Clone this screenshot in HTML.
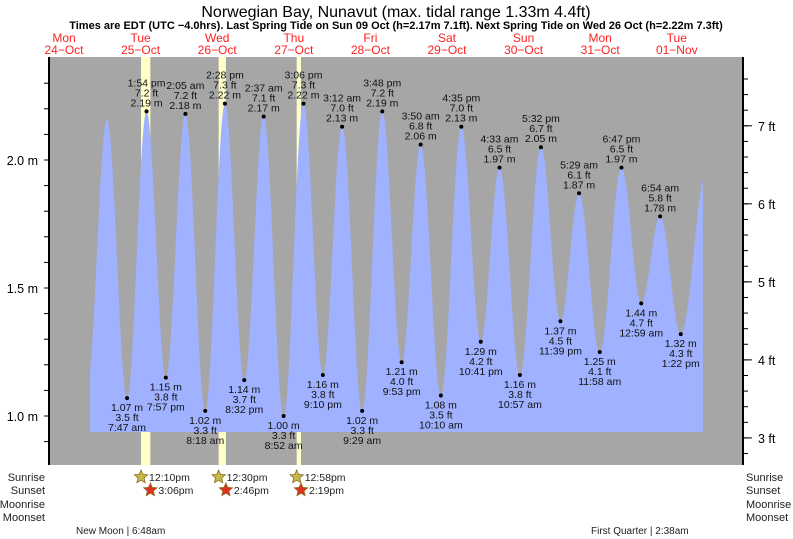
<!DOCTYPE html>
<html><head><meta charset="utf-8"><style>
body{margin:0;background:#fff;}
svg{display:block;font-family:"Liberation Sans",sans-serif;}
</style></head><body>
<svg id="chart" width="793" height="539" xmlns="http://www.w3.org/2000/svg">
<text x="396" y="17" font-size="16" text-anchor="middle">Norwegian Bay, Nunavut (max. tidal range 1.33m 4.4ft)</text>
<text x="396" y="29" font-size="11" font-weight="bold" text-anchor="middle">Times are EDT (UTC −4.0hrs). Last Spring Tide on Sun 09 Oct (h=2.17m 7.1ft). Next Spring Tide on Wed 26 Oct (h=2.22m 7.3ft)</text>
<rect x="49" y="57" width="694" height="408" fill="#a6a6a6"/>
<g id="bars"></g>
<path id="tide" fill="#9fb1ff"/>
<g id="labels" font-size="10.5" fill="#111" text-anchor="middle"></g>
<line x1="49" y1="57" x2="49" y2="465" stroke="#000" stroke-width="2"/>
<line x1="743" y1="57" x2="743" y2="465" stroke="#000" stroke-width="2"/>
<g id="axes" font-size="12.5"></g>
<g id="days" font-size="12" fill="#ff2020" text-anchor="middle"></g>
<g font-size="11" fill="#222" text-anchor="end">
<text x="45" y="481">Sunrise</text><text x="45" y="494">Sunset</text><text x="45" y="508">Moonrise</text><text x="45" y="521">Moonset</text></g>
<g font-size="11" fill="#222">
<text x="746" y="481">Sunrise</text><text x="746" y="494">Sunset</text><text x="746" y="508">Moonrise</text><text x="746" y="521">Moonset</text></g>
<g id="sun" font-size="10.5" fill="#222"></g>
<text x="76" y="534" font-size="10" fill="#222">New Moon | 6:48am</text>
<text x="591" y="534" font-size="10" fill="#222">First Quarter | 2:38am</text>
</svg>
<script>
const tideHours=[-4.8,1.5,7.78,13.9,19.95,26.08,32.3,38.47,44.53,50.62,56.87,63.1,69.17,75.2,81.48,87.8,93.88,99.83,106.17,112.58,118.68,124.55,130.95,137.53,143.65,149.48,155.97,162.78,168.98,174.9,181.37,189.5];
const tideHeights=[1.12,2.16,1.07,2.19,1.15,2.18,1.02,2.22,1.14,2.17,1.00,2.22,1.16,2.13,1.02,2.19,1.21,2.06,1.08,2.13,1.29,1.97,1.16,2.05,1.37,1.87,1.25,1.97,1.44,1.78,1.32,1.96];
const tideFeet=[null,null,'3.5','7.2','3.8','7.2','3.3','7.3','3.7','7.1','3.3','7.3','3.8','7.0','3.3','7.2','4.0','6.8','3.5','7.0','4.2','6.5','3.8','6.7','4.5','6.1','4.1','6.5','4.7','5.8','4.3',null];
const tideTimes=[null,null,'7:47 am','1:54 pm','7:57 pm','2:05 am','8:18 am','2:28 pm','8:32 pm','2:37 am','8:52 am','3:06 pm','9:10 pm','3:12 am','9:29 am','3:48 pm','9:53 pm','3:50 am','10:10 am','4:35 pm','10:41 pm','4:33 am','10:57 am','5:32 pm','11:39 pm','5:29 am','11:58 am','6:47 pm','12:59 am','6:54 am','1:22 pm',null];
const dayNames=['Mon','Tue','Wed','Thu','Fri','Sat','Sun','Mon','Tue'];
const dayDates=['24\u2212Oct','25\u2212Oct','26\u2212Oct','27\u2212Oct','28\u2212Oct','29\u2212Oct','30\u2212Oct','31\u2212Oct','01\u2212Nov'];
const sunriseHours=[12.17,36.5,60.97];
const sunsetHours=[15.1,38.77,62.32];
const sunriseLabels=['12:10pm','12:30pm','12:58pm'];
const sunsetLabels=['3:06pm','2:46pm','2:19pm'];
const meterTicks=[1.0,1.5,2.0];
const feetTicks=[3,4,5,6,7];

const NS='http://www.w3.org/2000/svg';
const X=t=>102.2+t*3.19;
const Y=h=>416-(h-1)*256;
const tStart=-3.8,tEnd=188.3,baseY=432;
function mk(tag,attrs,parent,txt){const e=document.createElementNS(NS,tag);for(const k in attrs)e.setAttribute(k,attrs[k]);if(txt!=null)e.textContent=txt;parent.appendChild(e);return e;}
function hAt(t){for(let i=0;i<tideHours.length-1;i++){const a=tideHours[i],b=tideHours[i+1];if(t>=a&&t<=b){const f=(1-Math.cos(Math.PI*(t-a)/(b-a)))/2;return tideHeights[i]+(tideHeights[i+1]-tideHeights[i])*f;}}return tideHeights[tideHeights.length-1];}
const bars=document.getElementById('bars');
for(let i=0;i<sunriseHours.length;i++){
 const r=mk('rect',{x:X(sunriseHours[i]),y:57,width:X(sunsetHours[i])-X(sunriseHours[i]),height:408,fill:'#ffffc8'},bars);
 
 
}
let d='M'+X(tStart)+','+baseY;
for(let t=tStart;t<=tEnd;t+=0.25){d+=' L'+X(t).toFixed(1)+','+Y(hAt(t)).toFixed(1);}
d+=' L'+X(tEnd)+','+Y(hAt(tEnd)).toFixed(1)+' L'+X(tEnd)+','+baseY+' Z';
document.getElementById('tide').setAttribute('d',d);
const lg=document.getElementById('labels');
for(let i=0;i<tideHours.length;i++){
 if(!tideTimes[i])continue;
 const x=X(tideHours[i]),y=Y(tideHeights[i]);
 const high=tideHeights[i]>(tideHeights[i-1]||0);
 const g=mk('g',{},lg);
 
 
 mk('circle',{cx:x,cy:y,r:2,fill:'#000'},g);
 const m=tideHeights[i].toFixed(2)+' m',f=tideFeet[i]+' ft';
 if(high){mk('text',{x:x,y:y-5},g,m);mk('text',{x:x,y:y-15},g,f);mk('text',{x:x,y:y-25},g,tideTimes[i]);}
 else{mk('text',{x:x,y:y+13},g,m);mk('text',{x:x,y:y+23},g,f);mk('text',{x:x,y:y+33},g,tideTimes[i]);}
}
const ax=document.getElementById('axes');
for(let h=0.8;h<=2.36;h+=0.1){const y=Y(h);if(y<58||y>464)continue;mk('line',{x1:44,y1:y,x2:49,y2:y,stroke:'#000'},ax);}
meterTicks.forEach(h=>{const t=mk('text',{x:38,y:Y(h)+5,'text-anchor':'end'},ax,h.toFixed(1)+' m');});
for(let f=2.6;f<=7.8;f+=0.2){const y=Y(f*0.3048);if(y<58||y>464)continue;mk('line',{x1:743,y1:y,x2:748,y2:y,stroke:'#000'},ax);}
feetTicks.forEach(f=>{const y=Y(f*0.3048);mk('line',{x1:743,y1:y,x2:752,y2:y,stroke:'#000'},ax);const t=mk('text',{x:758,y:y+5},ax,f+' ft');});
const dg=document.getElementById('days');
for(let i=0;i<dayNames.length;i++){
 const x=64+i*76.6;
 const g=mk('g',{},dg);
 
 
 mk('text',{x:x,y:42},g,dayNames[i]);mk('text',{x:x,y:54},g,dayDates[i]);
}
const sg=document.getElementById('sun');
function star(cx,cy,fill){let p='';for(let k=0;k<10;k++){const r=k%2?3.2:7,a=-Math.PI/2+k*Math.PI/5;p+=(cx+r*Math.cos(a)).toFixed(1)+','+(cy+r*Math.sin(a)).toFixed(1)+' ';}return mk('polygon',{points:p,fill:fill,stroke:'#8a6a20','stroke-width':0.8},sg);}
for(let i=0;i<sunriseHours.length;i++){
 const s1=star(X(sunriseHours[i]),477,'#c8b84a');
 
 mk('text',{x:X(sunriseHours[i])+8,y:481},sg,sunriseLabels[i]);
 const s2=star(X(sunsetHours[i]),490,'#e03020');
 
 mk('text',{x:X(sunsetHours[i])+8,y:494},sg,sunsetLabels[i]);
}
</script>
</body></html>
